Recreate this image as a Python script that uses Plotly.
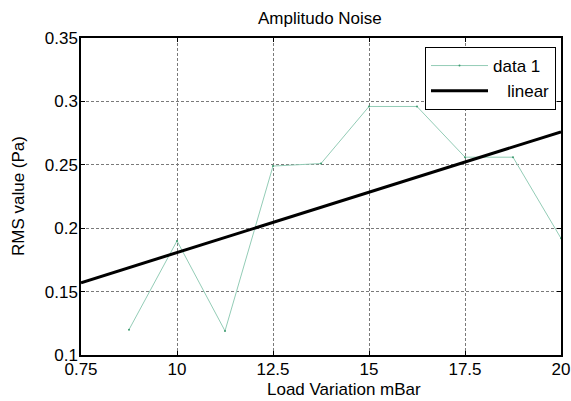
import plotly.graph_objects as go

# Data
load_x = [8.75, 10, 11.25, 12.5, 13.75, 15, 16.25, 17.5, 18.75, 20]
rms_y = [0.120, 0.190, 0.119, 0.249, 0.251, 0.296, 0.296, 0.256, 0.256, 0.192]
lin_x = [7.5, 20]
lin_y = [0.157, 0.276]
x_tickvals = [7.5, 10, 12.5, 15, 17.5, 20]
x_ticktext = ["0.75", "10", "12.5", "15", "17.5", "20"]
y_tickvals = [0.1, 0.15, 0.2, 0.25, 0.3, 0.35]
y_ticktext = ["0.1", "0.15", "0.2", "0.25", "0.3", "0.35"]
series_names = ["data 1", "\u00a0\u00a0\u00a0linear"]

FONT = "Liberation Sans, Arial, sans-serif"

fig = go.Figure()
fig.add_trace(go.Scatter(
    x=load_x, y=rms_y, mode="lines+markers", name=series_names[0],
    line=dict(color="#93ccb6", width=1),
    marker=dict(color="#3c9a6e", size=2),
))
fig.add_trace(go.Scatter(
    x=lin_x, y=lin_y, mode="lines", name=series_names[1],
    line=dict(color="black", width=3),
))

axis_common = dict(
    showline=True, linecolor="black", linewidth=1.5, mirror="ticks",
    ticks="inside", ticklen=4, tickcolor="black",
    showgrid=True, gridcolor="#7a7a7a", gridwidth=1, griddash="3px,2px",
    zeroline=False, tickfont=dict(family=FONT, size=17, color="black"),
    automargin=False,
)

fig.update_xaxes(range=[7.5, 20], tickvals=x_tickvals, ticktext=x_ticktext,
                 ticklabelstandoff=-2, **axis_common)
fig.update_yaxes(range=[0.1, 0.35], tickvals=y_tickvals, ticktext=y_ticktext,
                 ticklabelstandoff=-2, **axis_common)

fig.update_layout(
    width=571, height=401,
    margin=dict(l=81, r=10, t=38, b=46),
    paper_bgcolor="white", plot_bgcolor="white",
    font=dict(family=FONT, size=17, color="black"),
    showlegend=True,
    legend=dict(
        x=(556 - 81) / 480, y=(355 - 47) / 317, xanchor="right", yanchor="top",
        bordercolor="black", borderwidth=1, bgcolor="white",
        font=dict(family=FONT, size=17, color="black"),
        itemwidth=57, tracegroupgap=0,
    ),
    annotations=[
        dict(text="Amplitudo Noise", xref="paper", yref="paper",
             x=(320 - 81) / 480, y=(355 - 19) / 317, xanchor="center", yanchor="middle",
             showarrow=False, font=dict(family=FONT, size=17, color="black")),
        dict(text="Load Variation mBar", xref="paper", yref="paper",
             x=(344 - 81) / 480, y=(355 - 389) / 317, xanchor="center", yanchor="middle",
             showarrow=False, font=dict(family=FONT, size=17, color="black")),
        dict(text="RMS value (Pa)", xref="paper", yref="paper",
             x=(18 - 81) / 480, y=(355 - 196) / 317, xanchor="center", yanchor="middle",
             textangle=-90, showarrow=False, font=dict(family=FONT, size=17, color="black")),
    ],
)

fig.write_html(
    "out.html",
    config={"displayModeBar": False},
    post_script="document.body.style.margin='0';document.body.style.padding='0';",
)
